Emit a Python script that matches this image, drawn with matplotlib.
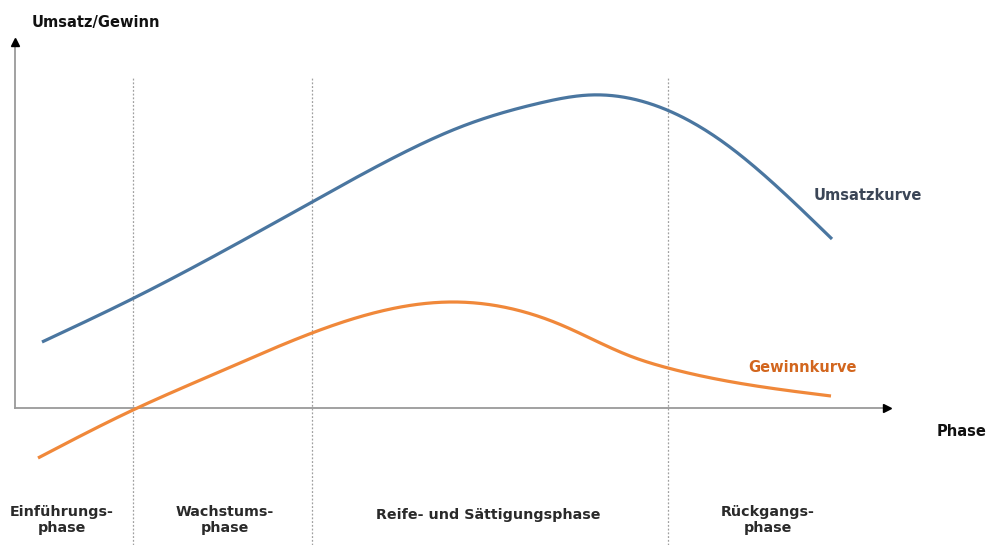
import numpy as np
import matplotlib
matplotlib.use("Agg")
import matplotlib.pyplot as plt

# Product life cycle: revenue and profit curves over the four phases
umsatz_x = [2.7, 11.5, 29.7, 38.2, 44.8, 52.5, 57.5, 65.2, 70.8, 75.8, 81.7]
umsatz_y = [6.6, 10.8, 20.6, 25.2, 28.2, 30.5, 31.3, 29.8, 26.6, 22.5, 16.9]

gewinn_x = [2.3, 11.8, 20.4, 29.7, 43.6, 54.4, 61.5, 65.3, 73.5, 81.6]
gewinn_y = [-5.0, -0.2, 3.6, 7.5, 10.6, 8.4, 5.2, 4.0, 2.3, 1.2]

phase_bounds = [11.8, 29.7, 65.3]
phase_labels = ["Einführungs-\nphase", "Wachstums-\nphase",
                "Reife- und Sättigungsphase", "Rückgangs-\nphase"]
phase_label_x = [4.7, 21.0, 47.3, 75.3]


def smooth(xs, ys, n=400):
    """Natural cubic spline through the given points."""
    x = np.asarray(xs, float)
    y = np.asarray(ys, float)
    k = len(x)
    h = np.diff(x)
    A = np.zeros((k, k))
    r = np.zeros(k)
    A[0, 0] = A[-1, -1] = 1.0
    for i in range(1, k - 1):
        A[i, i - 1] = h[i - 1]
        A[i, i] = 2 * (h[i - 1] + h[i])
        A[i, i + 1] = h[i]
        r[i] = 6 * ((y[i + 1] - y[i]) / h[i] - (y[i] - y[i - 1]) / h[i - 1])
    M = np.linalg.solve(A, r)
    xx = np.linspace(x[0], x[-1], n)
    idx = np.clip(np.searchsorted(x, xx) - 1, 0, k - 2)
    x0, x1 = x[idx], x[idx + 1]
    hh = x1 - x0
    a = (x1 - xx) / hh
    b = (xx - x0) / hh
    yy = (a * y[idx] + b * y[idx + 1]
          + ((a**3 - a) * M[idx] + (b**3 - b) * M[idx + 1]) * hh**2 / 6)
    return xx, yy


fig = plt.figure(figsize=(9.88, 5.45), dpi=100)
ax = fig.add_axes([0, 0, 1, 1])
ax.set_xlim(-1.5, 97.3)
ax.set_ylim(-13.7, 40.8)
ax.axis("off")

# phase separators
for xb in phase_bounds:
    ax.plot([xb, xb], [-13.7, 33.1], color="#a0a0a0", lw=0.9,
            linestyle=(0, (1.5, 1.5)), zorder=1)

# axes with arrow heads
axis_col = "#9a9a9a"
ax.plot([0, 0], [0, 36.4], color=axis_col, lw=1.3, zorder=2)
ax.plot([0, 87.0], [0, 0], color=axis_col, lw=1.3, zorder=2)
ax.plot([0], [36.6], marker="^", color="black", ms=6, zorder=3)
ax.plot([87.2], [0], marker=">", color="black", ms=6, zorder=3)

# curves
ux, uy = smooth(umsatz_x, umsatz_y)
gx, gy = smooth(gewinn_x, gewinn_y)
ax.plot(ux, uy, color="#4a76a0", lw=2.3, solid_capstyle="butt", zorder=4)
ax.plot(gx, gy, color="#f0883a", lw=2.3, solid_capstyle="butt", zorder=4)

bold = dict(fontweight="bold", family="DejaVu Sans")
ax.text(8.1, 38.6, "Umsatz/Gewinn", ha="center", va="center",
        fontsize=10.5, color="#111111", **bold)
ax.text(94.7, -2.3, "Phase", ha="center", va="center",
        fontsize=10.5, color="#111111", **bold)
ax.text(85.3, 21.3, "Umsatzkurve", ha="center", va="center",
        fontsize=10.5, color="#3b4657", **bold)
ax.text(78.7, 4.0, "Gewinnkurve", ha="center", va="center",
        fontsize=10.5, color="#d2661e", **bold)

for lx, lab in zip(phase_label_x, phase_labels):
    y = -10.7 if "\n" not in lab else -11.2
    ax.text(lx, y, lab, ha="center", va="center", fontsize=10.3,
            color="#2a2a2a", linespacing=1.2, **bold)

fig.savefig("out.png", dpi=100)
